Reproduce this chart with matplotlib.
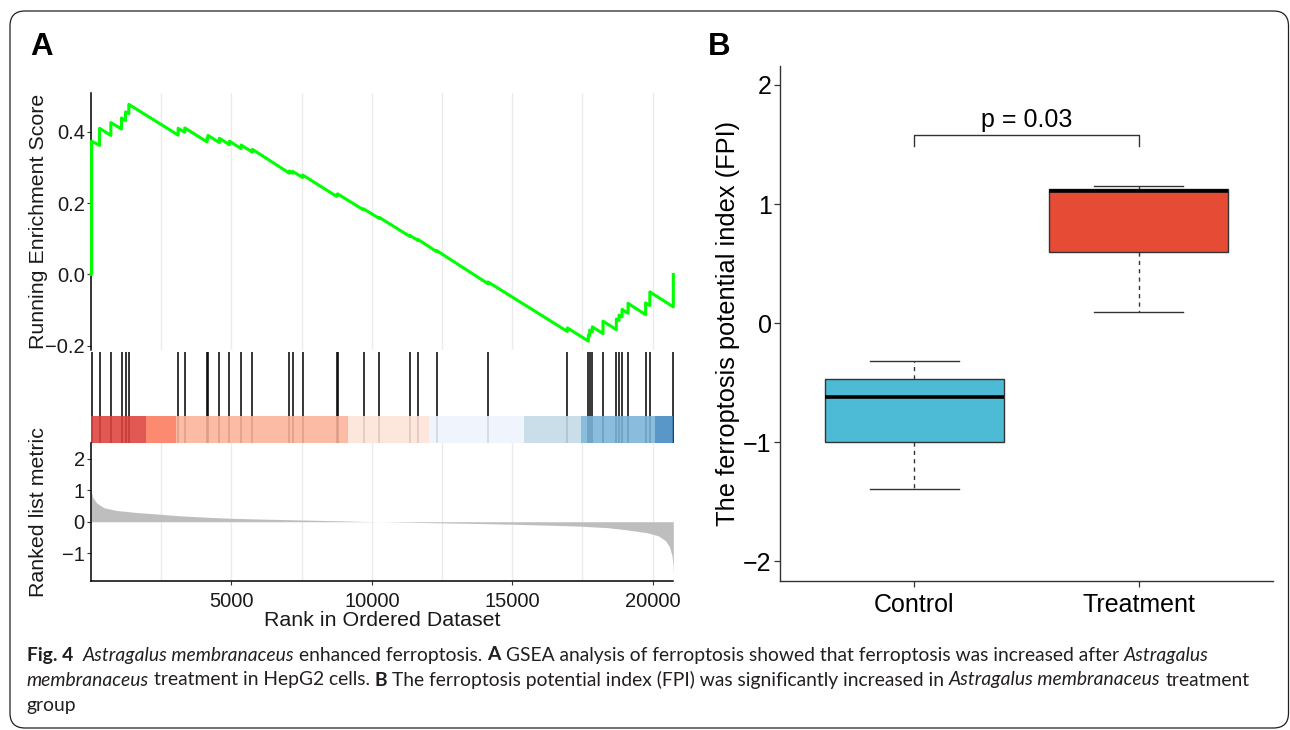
import matplotlib
matplotlib.use("Agg")
import matplotlib.pyplot as plt
from matplotlib.patches import FancyBboxPatch, Rectangle
from matplotlib.transforms import IdentityTransform

plt.rcParams['font.family'] = ['Liberation Sans', 'DejaVu Sans']

# ---------------- data: panel A (GSEA) ----------------
n_genes = 20733
hit_ranks = [20, 305, 707, 1087, 1230, 1347, 3104, 3339, 4130, 4165, 4573, 4929,
             5345, 5747, 7063, 7180, 7536, 8745, 8780, 9706, 10264, 11367, 11645,
             12306, 14135, 16962, 17709, 17758, 17851, 18230, 18705, 18801, 18908,
             19121, 19747, 19897, 20733]
es_before = [0.000, 0.362, 0.390, 0.408, 0.432, 0.451, 0.391, 0.399, 0.372, 0.380,
             0.370, 0.364, 0.353, 0.343, 0.284, 0.284, 0.272, 0.219, 0.222, 0.181,
             0.157, 0.106, 0.095, 0.064, -0.026, -0.160, -0.187, -0.172, -0.161,
             -0.166, -0.155, -0.129, -0.119, -0.109, -0.113, -0.087, -0.091]
es_after = [0.374, 0.410, 0.426, 0.439, 0.456, 0.477, 0.410, 0.411, 0.382, 0.390,
            0.382, 0.374, 0.363, 0.351, 0.290, 0.289, 0.279, 0.224, 0.226, 0.184,
            0.160, 0.109, 0.098, 0.067, -0.021, -0.150, -0.170, -0.156, -0.147,
            -0.131, -0.125, -0.114, -0.098, -0.081, -0.080, -0.049, 0.000]
es_ticks = [-0.2, 0.0, 0.2, 0.4]
es_ticklabels = ['\u22120.2', '0.0', '0.2', '0.4']

bar_edges = [1, 1977, 3044, 9151, 12032, 15433, 17439, 20082, 20733]
metric_ranks = [1, 60, 200, 450, 900, 1550, 2300, 3150, 4200, 5000, 6300, 7600,
                8800, 9700, 10300, 11500, 12700, 14000, 15000, 16300, 17400, 18400,
                19000, 19800, 20200, 20450, 20600, 20690, 20720, 20733]
metric_vals = [1.00, 0.78, 0.60, 0.45, 0.36, 0.30, 0.25, 0.19, 0.14, 0.11, 0.08,
               0.055, 0.03, 0.01, 0.0, -0.02, -0.04, -0.06, -0.08, -0.11, -0.14,
               -0.19, -0.25, -0.35, -0.45, -0.60, -0.80, -1.10, -1.40, -1.65]
metric_ticks = [-1, 0, 1, 2]
metric_ticklabels = ['\u22121', '0', '1', '2']
rank_ticks = [5000, 10000, 15000, 20000]

# ---------------- data: panel B (FPI boxplot) ----------------
groups = ['Control', 'Treatment']
fpi_whislo = [-1.39, 0.09]
fpi_q1 = [-1.00, 0.60]
fpi_med = [-0.62, 1.11]
fpi_q3 = [-0.47, 1.13]
fpi_whishi = [-0.315, 1.15]
fpi_ticks = [-2, -1, 0, 1, 2]
p_label = 'p = 0.03'

# ---------------- styles ----------------
bar_colors = ['#DE423C', '#FB7A5C', '#FBB298', '#FDE4D8', '#EEF3FD', '#C3DAE8',
              '#7AB4D9', '#4289C1']
box_colors = ['#4DBBD5', '#E64B35']

W, H = 1290, 730
fig = plt.figure(figsize=(W / 100, H / 100), dpi=100)


def ax_px(l, t, r, b):
    return fig.add_axes([l / W, 1 - b / H, (r - l) / W, (b - t) / H])


TXT = '#1a1a1a'
fsA_tick = 14.5
fsA_lab = 15.4

# ---- ES panel ----
ax1 = ax_px(91, 93, 673.3, 350)
xs, ys = [1], [0.0]
for r, b, a in zip(hit_ranks, es_before, es_after):
    xs += [r, r]
    ys += [b, a]
ax1.plot(xs, ys, color='#00FF00', lw=2.2, clip_on=False, zorder=3)
ax1.set_xlim(1, n_genes)
ax1.set_ylim(-0.212, 0.509)
ax1.set_yticks(es_ticks)
ax1.set_yticklabels(es_ticklabels)
ax1.set_xticks(rank_ticks)
ax1.set_xticks([2500, 7500, 12500, 17500], minor=True)
ax1.grid(axis='x', which='both', color='#EBEBEB', lw=1.0)
ax1.set_axisbelow(True)
ax1.tick_params(axis='x', which='both', bottom=False, labelbottom=False)
ax1.tick_params(axis='y', length=3, width=0.8, color='#333333', pad=1.5,
                labelsize=fsA_tick, labelcolor=TXT)
for s in ['top', 'right', 'bottom']:
    ax1.spines[s].set_visible(False)
ax1.spines['left'].set_linewidth(1.1)
ax1.set_ylabel('Running Enrichment Score', fontsize=fsA_lab, color=TXT, va='center')
ax1.yaxis.set_label_coords((39 - 91) / 582.3, 0.5)

# ---- hits + colour bar ----
ax2 = ax_px(91, 350, 673.3, 443)
ax2.set_xlim(1, n_genes)
ax2.set_ylim(0, 1)
ax2.vlines(hit_ranks, 0, 0.982, color='black', lw=1.1, clip_on=False)
for e0, e1, c in zip(bar_edges[:-1], bar_edges[1:], bar_colors):
    ax2.add_patch(Rectangle((e0, 0), e1 - e0, 0.2935, facecolor=c, edgecolor='none',
                            alpha=0.88, zorder=3))
ax2.axis('off')

# ---- ranked list metric ----
ax3 = ax_px(91, 443, 673.3, 580.7)
ax3.fill_between(metric_ranks, metric_vals, 0, color='#BEBEBE', lw=0, zorder=2)
ax3.set_xlim(1, n_genes)
ax3.set_ylim(-1.88, 2.51)
ax3.set_yticks(metric_ticks)
ax3.set_yticklabels(metric_ticklabels)
ax3.set_xticks(rank_ticks)
ax3.set_xticklabels([str(v) for v in rank_ticks])
ax3.set_xticks([2500, 7500, 12500, 17500], minor=True)
ax3.grid(axis='x', which='both', color='#EBEBEB', lw=1.0)
ax3.set_axisbelow(True)
ax3.tick_params(axis='both', which='major', length=3, width=0.8, color='#333333',
                labelsize=fsA_tick, labelcolor=TXT)
ax3.tick_params(axis='y', pad=1.5)
ax3.tick_params(axis='x', pad=5)
ax3.tick_params(axis='x', which='minor', length=0)
for s in ['top', 'right']:
    ax3.spines[s].set_visible(False)
ax3.spines['left'].set_linewidth(1.1)
ax3.spines['bottom'].set_linewidth(1.1)
ax3.set_ylabel('Ranked list metric', fontsize=fsA_lab, color=TXT, va='center')
ax3.yaxis.set_label_coords((39 - 91) / 582.3, 0.5)
ax3.set_xlabel('Rank in Ordered Dataset', fontsize=fsA_lab, color=TXT, va='center')
ax3.xaxis.set_label_coords(0.5, (580.7 - 621) / 137.7)

# ---- panel B ----
axb = ax_px(780, 65.8, 1273, 580.5)
stats = []
for i in range(len(groups)):
    stats.append(dict(med=fpi_med[i], q1=fpi_q1[i], q3=fpi_q3[i],
                      whislo=fpi_whislo[i], whishi=fpi_whishi[i], fliers=[],
                      label=groups[i]))
bp = axb.bxp(stats, positions=[1, 2], widths=0.8, capwidths=0.4, patch_artist=True,
             showfliers=False,
             boxprops=dict(edgecolor='#333333', linewidth=1.0),
             whiskerprops=dict(color='#333333', linewidth=1.0, linestyle=(0, (3, 3))),
             capprops=dict(color='#333333', linewidth=1.0),
             medianprops=dict(color='black', linewidth=2.6, solid_capstyle='butt'))
for patch, c in zip(bp['boxes'], box_colors):
    patch.set_facecolor(c)
axb.set_xlim(0.4, 2.6)
axb.set_ylim(-2.16, 2.16)
axb.set_yticks(fpi_ticks)
axb.set_xticks([1, 2])
axb.set_xticklabels(groups)
axb.tick_params(axis='both', length=4, width=0.9, color='#333333', labelsize=18,
                labelcolor='black')
axb.tick_params(axis='y', pad=2)
axb.tick_params(axis='x', pad=5)
for s in ['top', 'right']:
    axb.spines[s].set_visible(False)
for s in ['left', 'bottom']:
    axb.spines[s].set_color('#333333')
    axb.spines[s].set_linewidth(1.0)
axb.set_ylabel('The ferroptosis potential index (FPI)', fontsize=18.3, va='center')
axb.yaxis.set_label_coords((728 - 780) / 493, 0.5)
axb.plot([1, 1, 2, 2], [1.483, 1.58, 1.58, 1.483], color='#333333', lw=1.0)
axb.text(1.5, 1.646, p_label, ha='center', va='baseline', fontsize=18)

# ---- panel letters ----
fig.text(41.7 / W, 1 - 46.7 / H, 'A', fontsize=22.5, fontweight='bold', ha='center',
         va='center')
fig.text(718.7 / W, 1 - 47 / H, 'B', fontsize=22.5, fontweight='bold', ha='center',
         va='center')

# ---- frame ----
frame = FancyBboxPatch((10, 730 - 728), 1278.5, 717, boxstyle='round,pad=0,rounding_size=15',
                       transform=IdentityTransform(), facecolor='none',
                       edgecolor='#231F20', lw=0.9)
fig.patches.append(frame)

# ---- caption ----
CAP = '#231F20'
cap_family = ['Lato', 'DejaVu Sans']
lines = [
    [('Fig. 4', 'b'), ('  ', 'n'), ('Astragalus membranaceus', 'i'),
     (' enhanced ferroptosis. ', 'n'), ('A', 'b'),
     (' GSEA analysis of ferroptosis showed that ferroptosis was increased after ', 'n'),
     ('Astragalus', 'i')],
    [('membranaceus', 'i'), (' treatment in HepG2 cells. ', 'n'), ('B', 'b'),
     (' The ferroptosis potential index (FPI) was significantly increased in ', 'n'),
     ('Astragalus membranaceus', 'i'), (' treatment', 'n')],
    [('group', 'n')],
]
line_y = [655, 680, 705]
renderer = fig.canvas.get_renderer()


def props(style, fs):
    return dict(fontsize=fs, family=cap_family, color=CAP,
                fontweight='bold' if style == 'b' else 'normal',
                fontstyle='italic' if style == 'i' else 'normal')


def seg_width(s, style, fs):
    t1 = fig.text(0, 0, 'x' + s + 'x', **props(style, fs))
    w1 = t1.get_window_extent(renderer).width
    t1.remove()
    t2 = fig.text(0, 0, 'xx', **props(style, fs))
    w2 = t2.get_window_extent(renderer).width
    t2.remove()
    return w1 - w2


fs0 = 10.0
w_line2 = sum(seg_width(s, st, fs0) for s, st in lines[1])
cap_fs = fs0 * (1253 - 26.7) / w_line2

for segs, yy in zip(lines, line_y):
    x = 26.7
    for s, st in segs:
        if s.strip():
            lead = len(s) - len(s.lstrip(' '))
            xo = x + (seg_width(' ' * lead, st, cap_fs) if lead else 0)
            fig.text(xo / W, 1 - yy / H, s.strip(' '), ha='left', va='center',
                     **props(st, cap_fs))
        x += seg_width(s, st, cap_fs)

fig.savefig('out.png', dpi=100)
